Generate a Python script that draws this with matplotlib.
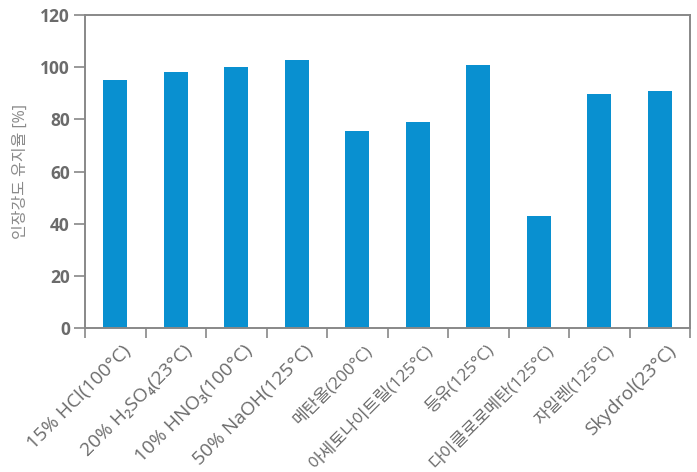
import matplotlib
matplotlib.use("Agg")
import matplotlib.pyplot as plt
import matplotlib.transforms as mtransforms
import numpy as np

plt.rcParams['font.family'] = ['Open Sans', 'Noto Sans CJK KR', 'DejaVu Sans']

labels = ['15% HCl(100°C)', '20% H₂SO₄(23°C)', '10% HNO₃(100°C)', '50% NaOH(125°C)',
          '메탄올(200°C)', '아세토나이트릴(125°C)', '등유(125°C)', '다이클로로메탄(125°C)',
          '자일렌(125°C)', 'Skydrol(23°C)']
values = [95.1, 98.2, 100.1, 102.8, 75.5, 79.0, 100.8, 42.9, 89.7, 90.9]

bar_color = '#0990d0'
axis_gray = '#888888'
text_gray = '#6b6b6b'

fig = plt.figure(figsize=(6.97, 4.72), dpi=100)
ax = fig.add_axes([0.122, 0.305, 0.868, 0.663])

x = np.arange(len(labels))
ax.bar(x, values, width=0.4, color=bar_color)

ax.set_xlim(-0.5, len(labels) - 0.5)
ax.set_ylim(0, 120)
ax.set_yticks(range(0, 121, 20))
ax.set_yticklabels([str(v) for v in range(0, 121, 20)], fontsize=12.5,
                   fontweight='bold', color=text_gray)

ax.set_xticks(x)
ax.set_xticklabels(labels, rotation=45, ha='right', rotation_mode='anchor',
                   fontsize=13, color=text_gray)
ax.tick_params(axis='x', which='major', length=0, pad=10)
shift = mtransforms.ScaledTranslation(7 / 100, 0, fig.dpi_scale_trans)
for t in ax.get_xticklabels():
    t.set_transform(t.get_transform() + shift)
    # hangul labels look a bit smaller in the original
    if any('\uac00' <= c <= '\ud7a3' for c in t.get_text()):
        t.set_fontsize(12.3)
    else:
        t.set_fontsize(13.8)
ax.set_xticks(np.arange(-0.5, len(labels), 1), minor=True)
ax.tick_params(axis='x', which='minor', length=7, width=1.2, color=axis_gray)
ax.tick_params(axis='y', length=8, width=1.2, color=axis_gray, pad=3)

for s in ax.spines.values():
    s.set_color(axis_gray)
    s.set_linewidth(1.4)

ax.set_ylabel('인장강도 유지율 [%]', fontsize=11.5, color='#8a8a8a', labelpad=8)

fig.savefig('out.png', dpi=100)
